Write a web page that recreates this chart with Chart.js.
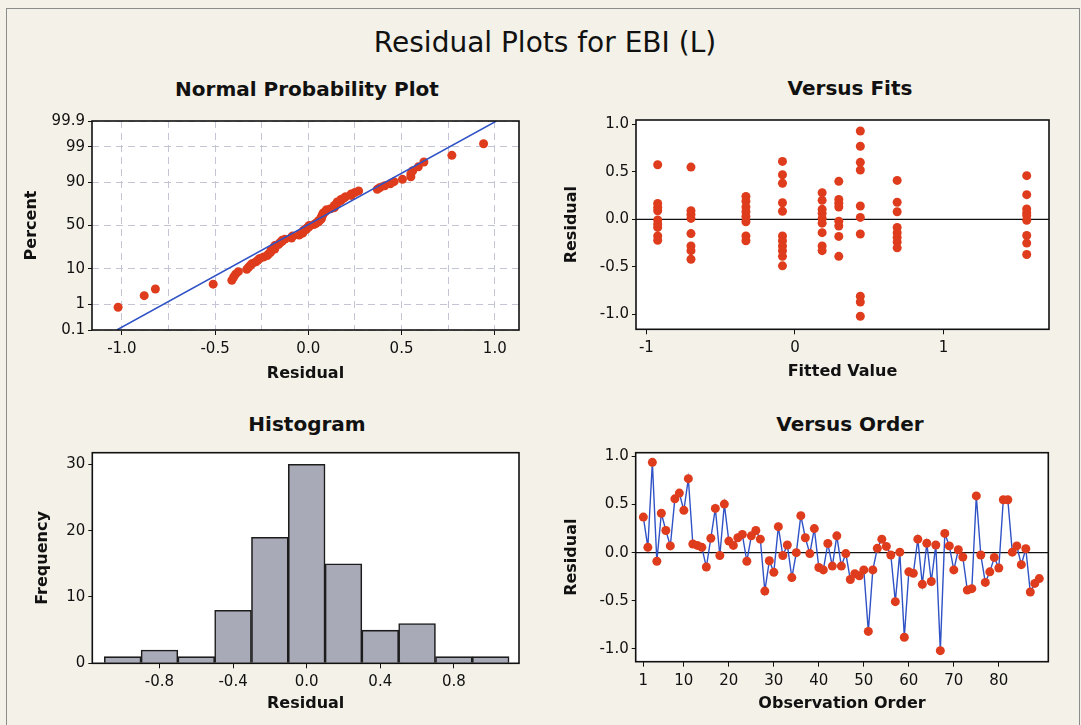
<!DOCTYPE html>
<html>
<head>
<meta charset="utf-8">
<script src="https://cdn.jsdelivr.net/npm/chart.js@4.4.0/dist/chart.umd.min.js"></script>
<style>
  body { margin: 0; width: 1081px; height: 725px; overflow: hidden; position: relative;
         background: #f4f1e8; font-family: "DejaVu Sans", Verdana, sans-serif; color: #111; }
  .frame { position: absolute; left: 6px; top: 8px; width: 1072px; height: 740px; border: 1px solid #8c8c8c; }
  canvas { position: absolute; }
  .title { position: absolute; transform: translateX(-50%); white-space: nowrap; }
  .main { font-size: 28px; top: 26px; }
  .sub { font-size: 20px; font-weight: bold; }
</style>
</head>
<body>
<div class="frame"></div>
<div class="title main" style="left:545px">Residual Plots for EBI (L)</div>
<div class="title sub" style="left:307px;top:77px">Normal Probability Plot</div>
<div class="title sub" style="left:850px;top:76px">Versus Fits</div>
<div class="title sub" style="left:307px;top:412px">Histogram</div>
<div class="title sub" style="left:850px;top:412px">Versus Order</div>

<canvas id="npp" width="540" height="290" style="left:0;top:100px"></canvas>
<canvas id="fits" width="536" height="290" style="left:545px;top:100px"></canvas>
<canvas id="hist" width="540" height="325" style="left:0;top:400px"></canvas>
<canvas id="order" width="536" height="325" style="left:545px;top:400px"></canvas>

<script>
// residuals in observation order (read from Versus Order)
const obsResiduals = [0.37, 0.055, 0.94, -0.09, 0.41, 0.23, 0.07, 0.56, 0.62, 0.44,
  0.77, 0.09, 0.075, 0.055, -0.15, 0.15, 0.46, -0.03, 0.505, 0.12,
  0.075, 0.155, 0.19, -0.09, 0.175, 0.23, 0.14, -0.40, -0.085, -0.205,
  0.27, -0.03, 0.08, -0.26, 0.0, 0.385, 0.155, -0.01, 0.25, -0.155,
  -0.18, 0.095, -0.14, 0.175, -0.14, -0.01, -0.28, -0.22, -0.24, -0.18,
  -0.82, -0.18, 0.045, 0.14, 0.065, -0.025, -0.51, 0.005, -0.88, -0.20,
  -0.215, 0.14, -0.33, 0.098, -0.30, 0.08, -1.02, 0.20, 0.07, -0.18,
  0.03, -0.045, -0.39, -0.375, 0.59, -0.025, -0.31, -0.20, -0.05, -0.16,
  0.55, 0.55, 0.005, 0.07, -0.125, 0.04, -0.41, -0.32, -0.27];

// versus fits: fitted value of each column and the residuals in it
const fittedValues = [-0.924, -0.70, -0.33, -0.084, 0.183, 0.295, 0.44, 0.688, 1.56];
const fitsResiduals = [
  [0.575, 0.168, 0.126, 0.09, -0.007, -0.05, -0.085, -0.175, -0.22],
  [0.55, 0.09, 0.05, 0.01, -0.15, -0.28, -0.33, -0.42],
  [0.24, 0.19, 0.13, 0.08, 0.03, -0.025, -0.175, -0.225],
  [0.61, 0.47, 0.38, 0.175, 0.085, -0.175, -0.225, -0.28, -0.33, -0.39, -0.49],
  [0.28, 0.2, 0.105, 0.063, 0.01, -0.04, -0.14, -0.28, -0.33],
  [0.40, 0.21, 0.17, 0.13, -0.02, -0.07, -0.18, -0.39],
  [0.93, 0.77, 0.60, 0.52, 0.14, 0.02, -0.155, -0.81, -0.87, -1.02],
  [0.41, 0.18, 0.08, -0.085, -0.14, -0.19, -0.24, -0.30],
  [0.46, 0.26, 0.11, 0.07, 0.04, -0.01, -0.17, -0.25, -0.37]
];

// histogram bins
const histCenters = [-1.0, -0.8, -0.6, -0.4, -0.2, 0.0, 0.2, 0.4, 0.6, 0.8, 1.0];
const histCounts = [1, 2, 1, 8, 19, 30, 15, 5, 6, 1, 1];

// normal probability plot fit line ends and tick labels
const npLineX = [-1.027, 1.009];
const npLinePct = [0.1, 99.9];
const pctTicks = [0.1, 1, 10, 50, 90, 99, 99.9];
const npResidTicks = [-1.0, -0.75, -0.5, -0.25, 0.0, 0.25, 0.5, 0.75, 1.0];
const resTicks = [-1.0, -0.5, 0.0, 0.5, 1.0];
const fitTicks = [-1, 0, 1];
const histTicksX = [-0.8, -0.4, 0.0, 0.4, 0.8];
const histTicksY = [0, 10, 20, 30];
const orderTicks = [1, 10, 20, 30, 40, 50, 60, 70, 80];

const RED = '#de3c1c';
const BLUE = '#2f52c6';

// inverse normal cdf (Acklam) - for the probability scale
function probit(p) {
  const a = [-39.69683028665376, 220.9460984245205, -275.9285104469687, 138.357751867269, -30.66479806614716, 2.506628277459239];
  const b = [-54.47609879822406, 161.5858368580409, -155.6989798598866, 66.80131188771972, -13.28068155288572];
  const c = [-0.007784894002430293, -0.3223964580411365, -2.400758277161838, -2.549732539343734, 4.374664141464968, 2.938163982698783];
  const d = [0.007784695709041462, 0.3224671290700398, 2.445134137142996, 3.754408661907416];
  const pl = 0.02425;
  let q, r;
  if (p < pl) {
    q = Math.sqrt(-2 * Math.log(p));
    return (((((c[0]*q+c[1])*q+c[2])*q+c[3])*q+c[4])*q+c[5]) / ((((d[0]*q+d[1])*q+d[2])*q+d[3])*q+1);
  }
  if (p > 1 - pl) {
    q = Math.sqrt(-2 * Math.log(1 - p));
    return -(((((c[0]*q+c[1])*q+c[2])*q+c[3])*q+c[4])*q+c[5]) / ((((d[0]*q+d[1])*q+d[2])*q+d[3])*q+1);
  }
  q = p - 0.5; r = q * q;
  return (((((a[0]*r+a[1])*r+a[2])*r+a[3])*r+a[4])*r+a[5])*q / (((((b[0]*r+b[1])*r+b[2])*r+b[3])*r+b[4])*r+1);
}

Chart.defaults.font.family = '"DejaVu Sans", Verdana, sans-serif';
Chart.defaults.font.size = 15;
Chart.defaults.color = '#111';
Chart.defaults.animation = false;
Chart.defaults.responsive = false;
Chart.defaults.plugins.legend.display = false;
Chart.defaults.plugins.tooltip.enabled = false;

// white plot area + black frame + optional zero line
const boxPlugin = {
  id: 'box',
  beforeDraw(chart) {
    const a = chart.chartArea, c = chart.ctx;
    c.save();
    c.fillStyle = '#fff';
    c.fillRect(a.left, a.top, a.right - a.left, a.bottom - a.top);
    c.restore();
  },
  beforeDatasetsDraw(chart, args, opts) {
    if (opts.zero === undefined) return;
    const a = chart.chartArea, c = chart.ctx;
    const y = chart.scales.y.getPixelForValue(opts.zero);
    c.save();
    c.strokeStyle = '#111';
    c.lineWidth = 1.2;
    c.beginPath(); c.moveTo(a.left, y); c.lineTo(a.right, y); c.stroke();
    c.restore();
  },
  afterDraw(chart) {
    const a = chart.chartArea, c = chart.ctx;
    c.save();
    c.strokeStyle = '#111';
    c.lineWidth = 1.6;
    c.strokeRect(a.left, a.top, a.right - a.left, a.bottom - a.top);
    c.restore();
  }
};

function xAxis(min, max, ticks, height, title, pad, fmt) {
  return {
    type: 'linear', min, max, offset: false,
    afterBuildTicks: s => { s.ticks = ticks.map(v => ({ value: v })); },
    afterFit: s => { s.height = height; },
    ticks: { autoSkip: false, maxRotation: 0, padding: 5, callback: fmt },
    grid: { drawOnChartArea: false, offset: false, tickLength: 5, tickColor: '#111' },
    border: { display: false },
    title: { display: true, text: title, font: { size: 16, weight: 'bold' }, padding: { top: 0, bottom: pad } }
  };
}
function yAxis(min, max, ticks, width, title, pad, fmt) {
  return {
    type: 'linear', min, max,
    afterBuildTicks: s => { s.ticks = ticks.map(v => ({ value: v })); },
    afterFit: s => { s.width = width; },
    ticks: { autoSkip: false, padding: 3, callback: fmt },
    grid: { drawOnChartArea: false, tickLength: 4, tickColor: '#111' },
    border: { display: false },
    title: { display: true, text: title, font: { size: 16, weight: 'bold' }, padding: { top: pad, bottom: 0 } }
  };
}
const f1 = v => v.toFixed(1);

// ---- Normal probability plot
const sorted = obsResiduals.slice().sort((a, b) => a - b);
const n = sorted.length;
const npPoints = sorted.map((r, i) => ({ x: r, y: probit((i + 1 - 0.3) / (n + 0.4)) }));
const npLine = npLineX.map((x, i) => ({ x, y: probit(npLinePct[i] / 100) }));
const zTicks = pctTicks.map(p => probit(p / 100));
const isMajor = v => Math.abs(v * 2 - Math.round(v * 2)) < 1e-6;

const npX = xAxis(-1.16, 1.13, npResidTicks, 60, 'Residual', 7, (v) => isMajor(v) ? v.toFixed(1) : '');
npX.grid = { drawOnChartArea: true, color: '#c3c5d4', tickLength: 5,
  tickColor: c => (c.tick && isMajor(c.tick.value)) ? '#111' : 'rgba(0,0,0,0)' };
npX.border = { display: false, dash: [7, 5] };
const npY = yAxis(zTicks[0], zTicks[zTicks.length - 1], zTicks, 92, 'Percent', 22, (v, i) => String(pctTicks[i]));
npY.grid = { drawOnChartArea: true, color: '#c3c5d4', tickLength: 4, tickColor: '#111' };
npY.border = { display: false, dash: [7, 5] };

new Chart(document.getElementById('npp'), {
  type: 'scatter',
  data: { datasets: [
    { type: 'line', data: npLine, borderColor: BLUE, borderWidth: 1.5, pointRadius: 0, order: 0 },
    { data: npPoints, backgroundColor: RED, borderWidth: 0, pointRadius: 4.5, order: 1 }
  ] },
  options: {
    layout: { padding: { top: 21, right: 21, left: 0, bottom: 0 } },
    scales: { x: npX, y: npY },
    plugins: { box: {} }
  },
  plugins: [boxPlugin]
});

// ---- Versus fits
const fitsPoints = [];
fittedValues.forEach((fv, g) => fitsResiduals[g].forEach(r => fitsPoints.push({ x: fv, y: r })));
new Chart(document.getElementById('fits'), {
  type: 'scatter',
  data: { datasets: [{ data: fitsPoints, backgroundColor: RED, borderWidth: 0, pointRadius: 4.5 }] },
  options: {
    layout: { padding: { top: 20, right: 32, left: 0, bottom: 0 } },
    scales: {
      x: xAxis(-1.07, 1.71, fitTicks, 60.7, 'Fitted Value', 8.7, v => String(v)),
      y: yAxis(-1.158, 1.046, resTicks, 91, 'Residual', 17.4, f1)
    },
    plugins: { box: { zero: 0 } }
  },
  plugins: [boxPlugin]
});

// ---- Histogram
new Chart(document.getElementById('hist'), {
  type: 'bar',
  data: { datasets: [{
    data: histCenters.map((c, i) => ({ x: c, y: histCounts[i] })),
    backgroundColor: '#a9aab7', borderColor: '#1c1c1c', borderWidth: 1.6,
    barPercentage: 1, categoryPercentage: 1, borderSkipped: 'bottom'
  }] },
  options: {
    layout: { padding: { top: 52.7, right: 21, left: 0, bottom: 0 } },
    scales: {
      x: xAxis(-1.165, 1.154, histTicksX, 61.7, 'Residual', 11.4, f1),
      y: yAxis(0, 31.75, histTicksY, 92.3, 'Frequency', 33, v => String(v))
    },
    plugins: { box: {} }
  },
  plugins: [boxPlugin]
});

// ---- Versus order
new Chart(document.getElementById('order'), {
  type: 'line',
  data: { datasets: [{
    data: obsResiduals.map((r, i) => ({ x: i + 1, y: r })),
    borderColor: BLUE, borderWidth: 1.4, tension: 0,
    pointBackgroundColor: RED, pointBorderWidth: 0, pointRadius: 4.5
  }] },
  options: {
    layout: { padding: { top: 52.7, right: 32.7, left: 0, bottom: 0 } },
    scales: {
      x: xAxis(-0.7, 91, orderTicks, 63.3, 'Observation Order', 11.4, v => String(v)),
      y: yAxis(-1.135, 1.04, resTicks, 90.7, 'Residual', 17.4, f1)
    },
    plugins: { box: { zero: 0 } }
  },
  plugins: [boxPlugin]
});
</script>
</body>
</html>
